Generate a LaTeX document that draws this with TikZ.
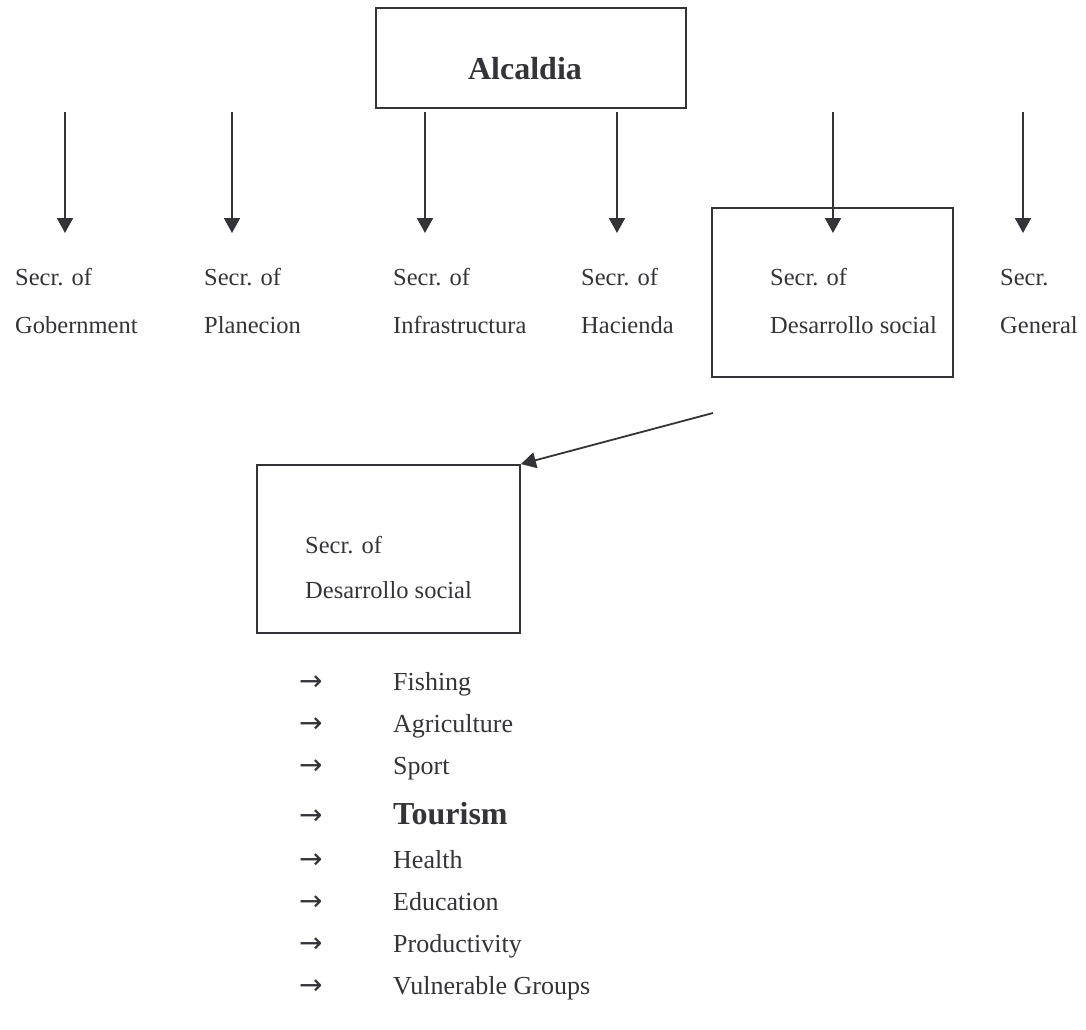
\documentclass[tikz,border=0pt]{standalone}
\usepackage{fontspec}
\setmainfont{Liberation Serif}
\newfontfamily\arrowfont{DejaVu Sans}
\usetikzlibrary{arrows.meta}
\definecolor{ink}{RGB}{52,52,56}
\begin{document}
\begin{tikzpicture}[x=1pt,y=-1pt,
  lbl/.style={anchor=base west,inner sep=0pt,text=ink,font=\fontsize{24.5}{29}\selectfont},
  boxed/.style={draw=ink,line width=1.8pt,inner sep=0pt},
  conn/.style={draw=ink,line width=1.8pt,-{Triangle[length=15pt,width=16pt]}},
  listarrow/.style={anchor=base west,inner sep=0pt,text=ink,font=\arrowfont\fontsize{28}{32}\selectfont},
  listitem/.style={anchor=base west,inner sep=0pt,text=ink,font=\fontsize{26}{30}\selectfont}]
\useasboundingbox (0,0) rectangle (1086,1029);
% top box
\node[boxed,minimum width=310pt,minimum height=100pt] (alc) at (531,58) {};
\node[anchor=base,inner sep=0pt,text=ink,font=\fontsize{32}{38}\selectfont\bfseries] (alct) at (525,79) {Alcaldia};
% arrow starts and ends
\foreach \n/\x in {a/65,b/232,c/425,d/617,e/833,f/1023}{
  \coordinate (s\n) at (\x,112);
  \coordinate (t\n) at (\x,233);
}
\foreach \n in {a,b,c,d,e,f}{ \draw[conn] (s\n) -- (t\n); }
% box around Desarrollo social
\node[boxed,minimum width=241pt,minimum height=169pt] (dsbox) at (832.5,292.5) {};
% labels
\node[lbl] (l1a) at (15,285) {Secr. of};
\node[lbl] (l1b) at (15,333) {Gobernment};
\node[lbl] (l2a) at (204,285) {Secr. of};
\node[lbl] (l2b) at (204,333) {Planecion};
\node[lbl] (l3a) at (393,285) {Secr. of};
\node[lbl] (l3b) at (393,333) {Infrastructura};
\node[lbl] (l4a) at (581,285) {Secr. of};
\node[lbl] (l4b) at (581,333) {Hacienda};
\node[lbl] (l5a) at (770,285) {Secr. of};
\node[lbl] (l5b) at (770,333) {Desarrollo social};
\node[lbl] (l6a) at (1000,285) {Secr.};
\node[lbl] (l6b) at (1000,333) {General};
% lower box
\node[boxed,minimum width=263pt,minimum height=168pt] (low) at (388.5,549) {};
\coordinate (dstart) at (713,413);
\draw[conn] (dstart) -- (low.north east);
\node[lbl] (m1) at (305,553) {Secr. of};
\node[lbl] (m2) at (305,598) {Desarrollo social};
% list
\foreach \i/\y/\t in {1/690/Fishing,2/732/Agriculture,3/774/Sport,5/868/Health,6/910/Education,7/952/Productivity,8/994/Vulnerable Groups}{
  \node[listarrow] (ar\i) at (299,\y) {→};
  \node[listitem] (it\i) at (393,\y) {\t};
}
\node[listarrow] (ar4) at (299,824) {→};
\node[anchor=base west,inner sep=0pt,text=ink,font=\fontsize{32}{38}\selectfont\bfseries] (it4) at (393,824) {Tourism};
\end{tikzpicture}
\end{document}
